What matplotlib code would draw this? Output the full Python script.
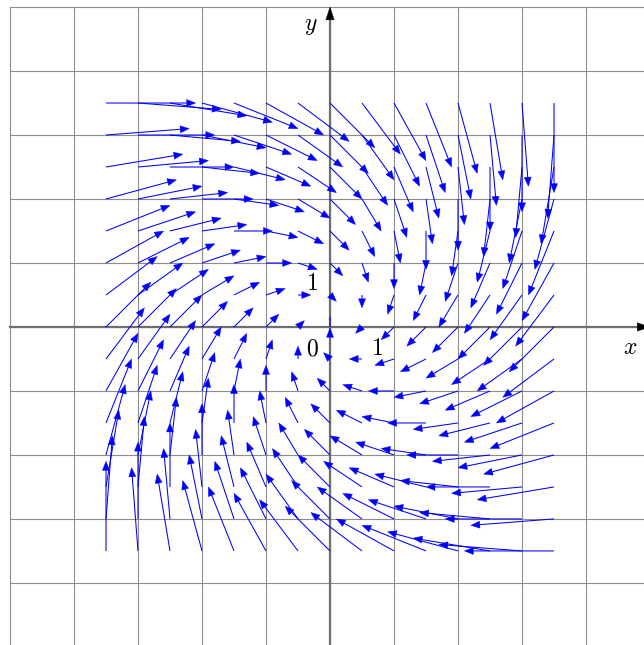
import matplotlib.pyplot as plt
import numpy as np
from matplotlib.collections import LineCollection
from matplotlib.patches import Polygon

plt.rcParams['mathtext.fontset'] = 'cm'

# points where the field is sampled (same on both axes)
grid_x = [-3.5, -3.0, -2.5, -2.0, -1.5, -1.0, -0.5, 0.0, 0.5, 1.0, 1.5, 2.0, 2.5, 3.0, 3.5]
grid_y = [-3.5, -3.0, -2.5, -2.0, -1.5, -1.0, -0.5, 0.0, 0.5, 1.0, 1.5, 2.0, 2.5, 3.0, 3.5]
# field F(x, y) = A (x, y): (y - x, -x - y), drawn scaled by 0.2
field_a = [[-1.0, 1.0], [-1.0, -1.0]]
arrow_scale = 0.2

grid_lines = [-5, -4, -3, -2, -1, 0, 1, 2, 3, 4, 5]
axis_names = ['x', 'y']
tick_names = ['0', '1', '1']

BLUE = '#0000ff'
HEAD_L, HEAD_W = 0.14, 0.11


def head(ax, tip, d, L=HEAD_L, W=HEAD_W, color=BLUE):
    d = np.asarray(d, float)
    d = d / np.linalg.norm(d)
    n = np.array([-d[1], d[0]])
    base = tip - d * L
    pts = [tip, base + n * W / 2, base - n * W / 2]
    ax.add_patch(Polygon(pts, closed=True, fc=color, ec=color, lw=0.3, zorder=4))


fig = plt.figure(figsize=(6.44, 6.45), dpi=100)
ax = fig.add_axes([0, 0, 1, 1])
ax.set_xlim(-5.156, 4.906)
ax.set_ylim(-4.97, 5.11)
ax.axis('off')

# grid
for g in grid_lines:
    ax.plot([g, g], [-5, 5], color='#8c8c8c', lw=0.8, zorder=1)
    ax.plot([-5, 5], [g, g], color='#8c8c8c', lw=0.8, zorder=1)

# axes
ax.plot([-5, 4.85], [0, 0], color='#6e6e6e', lw=1.6, zorder=2)
ax.plot([0, 0], [-5, 4.85], color='#6e6e6e', lw=1.6, zorder=2)
head(ax, np.array([5.0, 0]), (1, 0), L=0.2, W=0.13, color='black')
head(ax, np.array([0, 5.0]), (0, 1), L=0.2, W=0.13, color='black')

# vector field
A = np.array(field_a)
segs = []
for x in grid_x:
    for y in grid_y:
        p = np.array([x, y])
        v = arrow_scale * (A @ p)
        n = np.linalg.norm(v)
        if n == 0:
            # zero vector: tip drawn pointing up
            segs.append([p, p + [0, 0.16]])
            head(ax, p - [0, 0.02], (0, 1))
        elif n < HEAD_L:
            # arrow shorter than its tip: tip comes out reversed
            u = v / n
            head(ax, p + u * (n - HEAD_L) * 0.8, -u)
        else:
            u = v / n
            segs.append([p, p + v - u * HEAD_L * 0.8])
            head(ax, p + v, u)
lc = LineCollection(segs, colors=BLUE, linewidths=0.75, zorder=3)
lc.set_snap(False)
ax.add_collection(lc)

# labels
fs = 17
ax.text(4.69, -0.31, '$%s$' % axis_names[0], fontsize=fs, ha='center', va='center', zorder=5)
ax.text(-0.3, 4.72, '$%s$' % axis_names[1], fontsize=fs, ha='center', va='center', zorder=5)
ax.text(-0.28, -0.33, '$%s$' % tick_names[0], fontsize=fs, ha='center', va='center', zorder=5)
ax.text(0.73, -0.33, '$%s$' % tick_names[1], fontsize=fs, ha='center', va='center', zorder=5)
ax.text(-0.28, 0.69, '$%s$' % tick_names[2], fontsize=fs, ha='center', va='center', zorder=5)

fig.savefig('out.png', dpi=100)
